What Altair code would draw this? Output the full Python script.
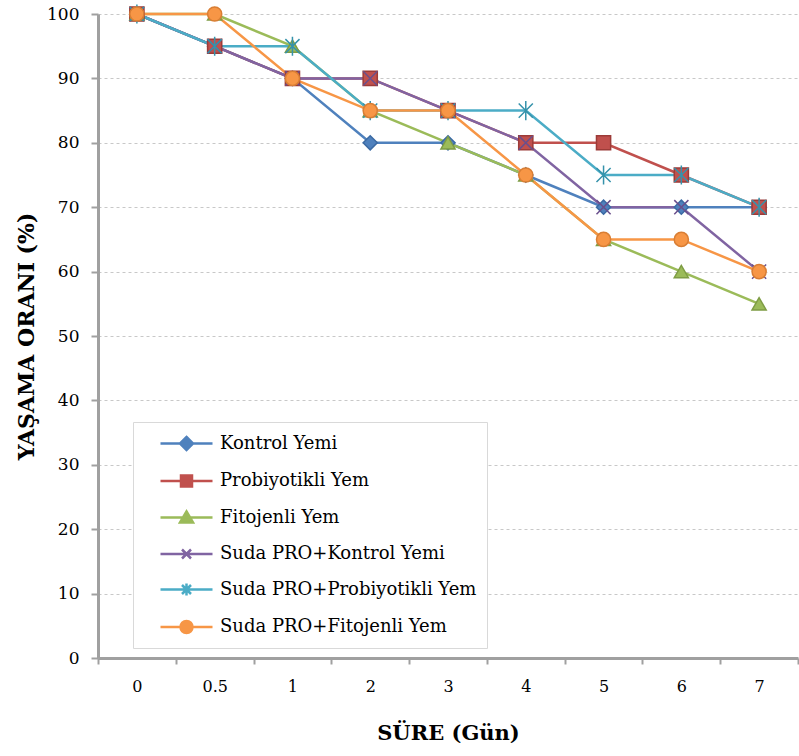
import altair as alt
import pandas as pd

days = ["0", "0.5", "1", "2", "3", "4", "5", "6", "7"]
series = ["Kontrol Yemi", "Probiyotikli Yem", "Fitojenli Yem",
          "Suda PRO+Kontrol Yemi", "Suda PRO+Probiyotikli Yem", "Suda PRO+Fitojenli Yem"]
kontrol = [100, 95, 90, 80, 80, 75, 70, 70, 70]
probiyotik = [100, 95, 90, 90, 85, 80, 80, 75, 70]
fitojen = [100, 100, 95, 85, 80, 75, 65, 60, 55]
suda_kontrol = [100, 95, 90, 90, 85, 80, 70, 70, 60]
suda_probiyotik = [100, 95, 95, 85, 85, 85, 75, 75, 70]
suda_fitojen = [100, 100, 90, 85, 85, 75, 65, 65, 60]

colors = ["#4F81BD", "#C0504D", "#9BBB59", "#8064A2", "#4BACC6", "#F79646"]
dark = ["#3B6AA3", "#9C3B38", "#7E9C44", "#6A4F8C", "#3592AB", "#D97E34"]
shapes = ["diamond", "square", "triangle-up",
          "M-1,-1L1,1M-1,1L1,-1",
          "M-1,-1L1,1M-1,1L1,-1M0,-1.35L0,1.35",
          "circle"]
LN = "M0.6,0L5.8,0"
legend_shapes = [
    LN + "M3.2,-0.65L3.85,0L3.2,0.65L2.55,0Z",
    LN + "M2.65,-0.55L3.75,-0.55L3.75,0.55L2.65,0.55Z",
    LN + "M3.2,-0.6L3.85,0.5L2.55,0.5Z",
    LN + "M2.75,-0.45L3.65,0.45M2.75,0.45L3.65,-0.45",
    LN + "M2.75,-0.45L3.65,0.45M2.75,0.45L3.65,-0.45M3.2,-0.6L3.2,0.6",
    LN + "M2.6,0A0.6,0.6,0,1,0,3.8,0A0.6,0.6,0,1,0,2.6,0Z",
]

rows = []
for name, vals in zip(series, [kontrol, probiyotik, fitojen, suda_kontrol, suda_probiyotik, suda_fitojen]):
    for d, v in zip(days, vals):
        rows.append({"gun": d, "oran": v, "seri": name})
df = pd.DataFrame(rows)

FONT = "DejaVu Serif"

x = alt.X("gun:O", sort=days, scale=alt.Scale(type="band", paddingInner=0, paddingOuter=0),
          axis=alt.Axis(title="SÜRE (Gün)", labelAngle=0, tickBand="extent", grid=False,
                        domainColor="#A0A0A0", domainWidth=3, tickColor="#A0A0A0", tickWidth=2,
                        tickSize=6, labelPadding=14, titlePadding=28, labelFontSize=16,
                        titleFontSize=21, titleFontWeight="bold"))
y = alt.Y("oran:Q", scale=alt.Scale(domain=[0, 100]),
          axis=alt.Axis(title="YAŞAMA ORANI (%)", values=list(range(0, 101, 10)),
                        domainColor="#A0A0A0", domainWidth=3, tickColor="#A0A0A0", tickWidth=2,
                        tickSize=7, labelPadding=12, titlePadding=8, labelFontSize=17,
                        titleFontSize=22, titleFontWeight="bold",
                        gridColor="#C8C8C8", gridDash=[3, 3], gridWidth=1))

base = alt.Chart(df)

lines = base.mark_line(strokeWidth=2.5).encode(
    x=x, y=y,
    color=alt.Color("seri:N", sort=series, scale=alt.Scale(domain=series, range=colors), legend=None),
    order=alt.Order("gun:O"),
)

points = base.mark_point(filled=True, size=200, strokeWidth=1.5, opacity=1).encode(
    x=x, y=y,
    fill=alt.Fill("seri:N", sort=series, scale=alt.Scale(domain=series, range=colors), legend=None),
    stroke=alt.Stroke("seri:N", sort=series, scale=alt.Scale(domain=series, range=dark), legend=None),
    shape=alt.Shape("seri:N", sort=series, scale=alt.Scale(domain=series, range=shapes), legend=None),
)

leg = alt.Legend(title=None, orient="none", legendX=35, legendY=408,
                 symbolSize=400, symbolStrokeWidth=2.5, symbolOpacity=1,
                 labelFont=FONT, labelFontSize=18, labelColor="#000", labelOffset=54,
                 rowPadding=14.5, padding=10, strokeColor="#D9D9D9", fillColor="white",
                 labelLimit=400)
legend_layer = base.mark_point(filled=True, opacity=0, size=1).encode(
    x=x, y=y,
    color=alt.Color("seri:N", sort=series, scale=alt.Scale(domain=series, range=colors), legend=leg),
    stroke=alt.Stroke("seri:N", sort=series, scale=alt.Scale(domain=series, range=colors), legend=leg),
    shape=alt.Shape("seri:N", sort=series, scale=alt.Scale(domain=series, range=legend_shapes), legend=leg),
)

chart = alt.layer(lines, points, legend_layer).resolve_scale(
    color="independent", shape="independent", stroke="independent", fill="independent"
).properties(
    width=700, height=644,
    padding={"left": 15, "top": 1, "right": 0, "bottom": 0},
).configure_view(stroke=None).configure_axis(
    labelFont=FONT, titleFont=FONT, labelColor="#000", titleColor="#000"
)

chart.save("out.html", embed_options={"renderer": "svg", "actions": False})
